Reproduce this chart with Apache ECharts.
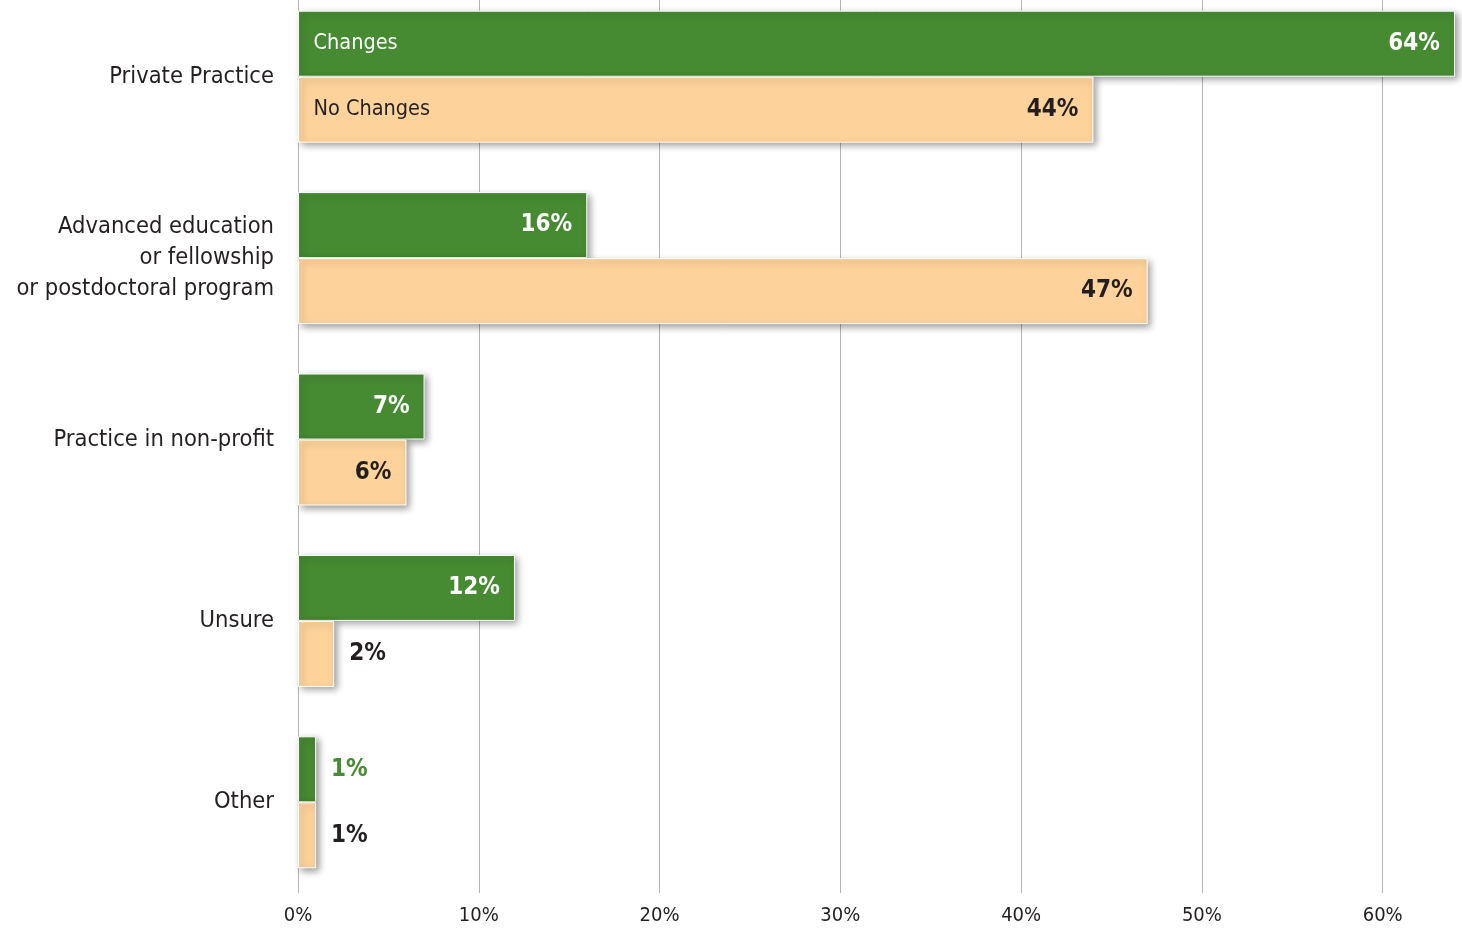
<!DOCTYPE html>
<html>
<head>
<meta charset="utf-8">
<script src="https://cdn.jsdelivr.net/npm/echarts@6/dist/echarts.min.js"></script>
<style>
  html, body { margin: 0; padding: 0; background: #fff; }
  #chart { width: 1462px; height: 928px; }
</style>
</head>
<body>
<div id="chart"></div>
<script>
const categories = ['Private Practice', 'Advanced education\nor fellowship\nor postdoctoral program', 'Practice in non-profit', 'Unsure', 'Other']
const changes = [64, 16, 7, 12, 1]
const noChanges = [44, 47, 6, 2, 1]
const seriesNames = ['Changes', 'No Changes']
const xTicks = [0, 10, 20, 30, 40, 50, 60]

const GREEN = '#468a32'
const PEACH = '#fdd29b'
const DARK = '#231f20'
const FONT = '"DejaVu Sans Condensed", "Liberation Sans Narrow", sans-serif'
const STRETCH = 'normal condensed'

// labels go inside the bar when it is wide enough, otherwise just right of it
function buildData(values, insideColor, outsideColor) {
  return values.map(v => {
    const inside = v >= 5
    return {
      value: v,
      label: {
        show: true,
        position: inside ? 'insideRight' : 'right',
        distance: 15,
        color: inside ? insideColor : outsideColor
      }
    }
  })
}

const chart = echarts.init(document.getElementById('chart'), null, { renderer: 'canvas' })

const barStyle = (color) => ({
  color: color,
  borderColor: '#fff',
  borderWidth: 1,
  shadowColor: 'rgba(0,0,0,0.4)',
  shadowBlur: 7,
  shadowOffsetX: 3,
  shadowOffsetY: 3
})

// series name written at the left end of the first bar
const nameMark = (name, color) => ({
  symbol: 'rect',
  symbolSize: 1,
  itemStyle: { color: 'rgba(0,0,0,0)' },
  label: {
    show: true,
    position: 'right',
    distance: 15,
    formatter: name,
    color: color,
    fontFamily: FONT,
    fontStyle: STRETCH,
    fontSize: 21.5
  },
  data: [{ coord: [0, categories[0]] }]
})

const valueLabel = {
  formatter: '{c}%',
  fontFamily: FONT,
  fontStyle: STRETCH,
  fontSize: 24,
  fontWeight: 'bold'
}

const option = {
  backgroundColor: '#fff',
  animation: false,
  textStyle: { fontFamily: FONT },
  grid: {
    left: 298,
    right: 7,
    top: -14,
    bottom: 35,
    containLabel: false,
    outerBoundsMode: 'none'
  },
  xAxis: {
    type: 'value',
    min: 0,
    max: 64,
    interval: 10,
    axisLine: { show: false },
    axisTick: { show: false },
    axisLabel: {
      margin: 13,
      fontSize: 20,
      color: DARK,
      fontFamily: FONT,
      fontStyle: STRETCH,
      formatter: v => xTicks.includes(v) ? v + '%' : '',
      showMaxLabel: false
    },
    splitLine: { show: true, showMaxLine: false, lineStyle: { color: '#b5b5b5', width: 1 } }
  },
  yAxis: {
    type: 'category',
    inverse: true,
    data: categories,
    axisLine: { show: false },
    axisTick: { show: false },
    axisLabel: {
      margin: 24,
      fontSize: 23.5,
      lineHeight: 31,
      color: DARK,
      fontFamily: FONT,
      fontStyle: STRETCH,
      align: 'right'
    }
  },
  series: [{
    name: seriesNames[0],
    type: 'bar',
    barWidth: 66,
    barGap: '0%',
    itemStyle: barStyle(GREEN),
    label: valueLabel,
    data: buildData(changes, '#fff', GREEN),
    markPoint: nameMark(seriesNames[0], '#fff')
  }, {
    name: seriesNames[1],
    type: 'bar',
    barWidth: 66,
    barGap: '0%',
    itemStyle: barStyle(PEACH),
    label: valueLabel,
    data: buildData(noChanges, DARK, DARK),
    markPoint: nameMark(seriesNames[1], DARK)
  }]
}

chart.setOption(option)
</script>
</body>
</html>
